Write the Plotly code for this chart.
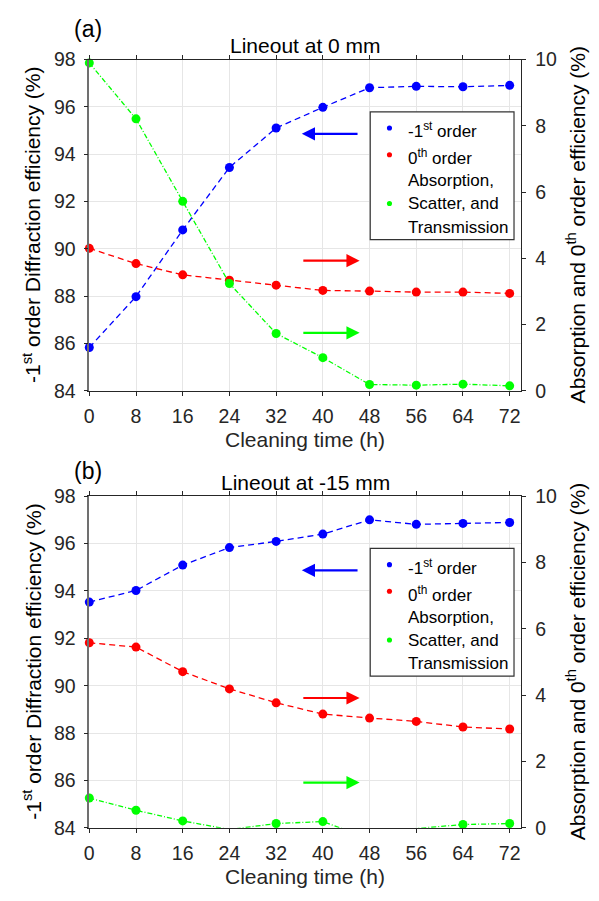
import plotly.graph_objects as go

# Cleaning time (hours) and tick labels
hours = [0, 8, 16, 24, 32, 40, 48, 56, 64, 72]
x_ticks = [0, 8, 16, 24, 32, 40, 48, 56, 64, 72]
left_ticks = [84, 86, 88, 90, 92, 94, 96, 98]
right_ticks = [0, 2, 4, 6, 8, 10]

# Panel (a): lineout at 0 mm
a_first_order = [85.83, 87.98, 90.80, 93.44, 95.11, 95.98, 96.81, 96.87, 96.85, 96.91]
a_zeroth_order = [4.30, 3.84, 3.50, 3.34, 3.19, 3.03, 3.01, 2.98, 2.98, 2.94]
a_ast = [9.90, 8.21, 5.72, 3.24, 1.73, 1.00, 0.19, 0.17, 0.20, 0.15]

# Panel (b): lineout at -15 mm
b_first_order = [93.53, 94.02, 95.09, 95.83, 96.09, 96.40, 97.00, 96.81, 96.85, 96.89]
b_zeroth_order = [5.58, 5.45, 4.71, 4.19, 3.77, 3.43, 3.31, 3.21, 3.04, 2.98]
b_ast = [0.90, 0.53, 0.21, -0.05, 0.13, 0.19, -0.32, -0.02, 0.10, 0.13]

panel_titles = ["Lineout at 0 mm", "Lineout at -15 mm"]
panel_tags = ["(a)", "(b)"]

W, H = 599, 901
FONT = "Liberation Sans, Arial, Helvetica, sans-serif"
INK = "#262626"
BLUE, RED, GREEN = "#0000ff", "#ff0000", "#00ff00"


def px(x):
    return x / W


def py(y):
    return 1 - y / H


# plot-area pixel boxes
X0, X1 = 85, 520.7
panels = [(49.8, 389.3), (497.3, 837.3)]
tag_y = [18.3, 472.0]
title_y = [35.0, 483.5]

fig = go.Figure()


def add_series(xa, ya, yb, first, zeroth, ast):
    # -1st order on the left axis
    fig.add_trace(go.Scatter(x=hours, y=first, xaxis=xa, yaxis=ya, mode="lines",
                             line=dict(color=BLUE, width=1.3, dash="6px,4px"),
                             hoverinfo="skip", showlegend=False))
    fig.add_trace(go.Scatter(x=hours, y=first, xaxis=xa, yaxis=ya, mode="markers",
                             marker=dict(color=BLUE, size=9), cliponaxis=False,
                             showlegend=False))
    # 0th order and absorption/scatter/transmission on the right axis
    fig.add_trace(go.Scatter(x=hours, y=zeroth, xaxis=xa, yaxis=yb, mode="lines",
                             line=dict(color=RED, width=1.3, dash="6px,4px"),
                             hoverinfo="skip", showlegend=False))
    fig.add_trace(go.Scatter(x=hours, y=zeroth, xaxis=xa, yaxis=yb, mode="markers",
                             marker=dict(color=RED, size=9), cliponaxis=False,
                             showlegend=False))
    fig.add_trace(go.Scatter(x=hours, y=ast, xaxis=xa, yaxis=yb, mode="lines",
                             line=dict(color=GREEN, width=1.3, dash="5px,2px,1px,2px"),
                             hoverinfo="skip", showlegend=False))
    # markers whose centre falls below the axis are not drawn
    vis = [(h, v) for h, v in zip(hours, ast) if v >= 0]
    fig.add_trace(go.Scatter(x=[h for h, _ in vis], y=[v for _, v in vis],
                             xaxis=xa, yaxis=yb, mode="markers",
                             marker=dict(color=GREEN, size=9), cliponaxis=False,
                             showlegend=False))


add_series("x", "y", "y2", a_first_order, a_zeroth_order, a_ast)
add_series("x2", "y3", "y4", b_first_order, b_zeroth_order, b_ast)

tickfont = dict(family=FONT, size=19.5, color=INK)
common_x = dict(range=[0, 74], tickvals=x_ticks, ticks="outside", ticklen=4,
                tickcolor=INK, showline=True, linecolor=INK, linewidth=1,
                mirror="ticks", showgrid=True, gridcolor="#e6e6e6", gridwidth=1,
                zeroline=False, tickfont=tickfont, domain=[px(X0), px(X1)],
                ticklabelstandoff=4)
common_left = dict(range=[84, 98], tickvals=left_ticks, ticks="outside", ticklen=4,
                   tickcolor=INK, showline=True, linecolor="#707070", linewidth=1.5,
                   showgrid=True, gridcolor="#e6e6e6", gridwidth=1, zeroline=False,
                   tickfont=tickfont, ticklabelstandoff=4)
common_right = dict(range=[0, 10], tickvals=right_ticks, ticks="outside", ticklen=4,
                    tickcolor=INK, showline=True, linecolor=INK, linewidth=1,
                    showgrid=False, zeroline=False, side="right", tickfont=tickfont,
                    ticklabelstandoff=5)

layout = dict(
    width=W, height=H, margin=dict(l=0, r=0, t=0, b=0),
    paper_bgcolor="white", plot_bgcolor="white", showlegend=False,
    font=dict(family=FONT, color=INK),
    xaxis=dict(common_x, anchor="y"),
    xaxis2=dict(common_x, anchor="y3"),
    yaxis=dict(common_left, anchor="x", domain=[py(panels[0][1]), py(panels[0][0])]),
    yaxis2=dict(common_right, anchor="x", overlaying="y"),
    yaxis3=dict(common_left, anchor="x2", domain=[py(panels[1][1]), py(panels[1][0])]),
    yaxis4=dict(common_right, anchor="x2", overlaying="y3"),
)
fig.update_layout(**layout)

annotations = []
shapes = []
xc = (X0 + X1) / 2
left_label = "-1<sup>st</sup> order Diffraction efficiency (%)"
right_label = "Absorption and 0<sup>th</sup> order efficiency (%)"
legend_lines = ["-1<sup>st</sup> order", "0<sup>th</sup> order", "Absorption,",
                "Scatter, and", "Transmission"]
legend_base = [128.3, 156.0, 180.0, 203.3, 227.7]
legend_dots = [(BLUE, 120.0), (RED, 147.3), (GREEN, 197.3)]

for i, (top, bot) in enumerate(panels):
    xa = "x" if i == 0 else "x2"
    ya = "y" if i == 0 else "y3"
    dy = top - panels[0][0]
    mid = (top + bot) / 2
    # panel tag and title
    annotations.append(dict(text=panel_tags[i], x=px(84), y=py(tag_y[i]), xref="paper",
                            yref="paper", showarrow=False, xanchor="center",
                            yanchor="middle", font=dict(size=23, color="#000")))
    annotations.append(dict(text=panel_titles[i], x=px(xc), y=py(title_y[i]),
                            xref="paper", yref="paper", showarrow=False,
                            xanchor="center", yanchor="middle",
                            font=dict(size=21, color="#000")))
    # axis titles
    annotations.append(dict(text="Cleaning time (h)", x=px(xc), y=py(bot + 50),
                            xref="paper", yref="paper", showarrow=False,
                            xanchor="center", yanchor="middle",
                            font=dict(size=21, color=INK)))
    annotations.append(dict(text=left_label, x=px(27), y=py(mid), xref="paper",
                            yref="paper", showarrow=False, textangle=-90,
                            xanchor="center", yanchor="middle",
                            font=dict(size=21, color="#000")))
    annotations.append(dict(text=right_label, x=px(576), y=py(mid), xref="paper",
                            yref="paper", showarrow=False, textangle=-90,
                            xanchor="center", yanchor="middle",
                            font=dict(size=21, color="#000")))
    # direction arrows pointing to the axis each series belongs to
    arrow_y = [(94.86, 89.50, 86.45), (94.87, 89.48, 85.91)][i]
    for color, yv, head, tail in [(BLUE, arrow_y[0], 36.4, 46.2),
                                  (RED, arrow_y[1], 46.3, 36.4),
                                  (GREEN, arrow_y[2], 46.3, 36.4)]:
        annotations.append(dict(text="", x=head, y=yv, ax=tail, ay=yv, xref=xa, yref=ya,
                                axref=xa, ayref=ya, showarrow=True, arrowhead=2,
                                arrowsize=1.2, arrowwidth=2.2, arrowcolor=color))
    # legend box
    shapes.append(dict(type="rect", xref="paper", yref="paper",
                       x0=px(368.3), x1=px(513.3), y0=py(103.3 + dy), y1=py(234.3 + dy),
                       fillcolor="white", line=dict(color="#333", width=1.2),
                       layer="above"))
    for color, yd in legend_dots:
        r = 2.6
        shapes.append(dict(type="circle", xref="paper", yref="paper",
                           x0=px(387.7 - r), x1=px(387.7 + r),
                           y0=py(yd + dy + r), y1=py(yd + dy - r),
                           fillcolor=color, line=dict(width=0), layer="above"))
    for txt, base in zip(legend_lines, legend_base):
        annotations.append(dict(text=txt, x=px(404), y=py(base + dy - 6),
                                xref="paper", yref="paper", showarrow=False,
                                xanchor="left", yanchor="middle",
                                font=dict(size=17, color="#000")))

fig.update_layout(annotations=annotations, shapes=shapes)
fig.write_html("out.html")
